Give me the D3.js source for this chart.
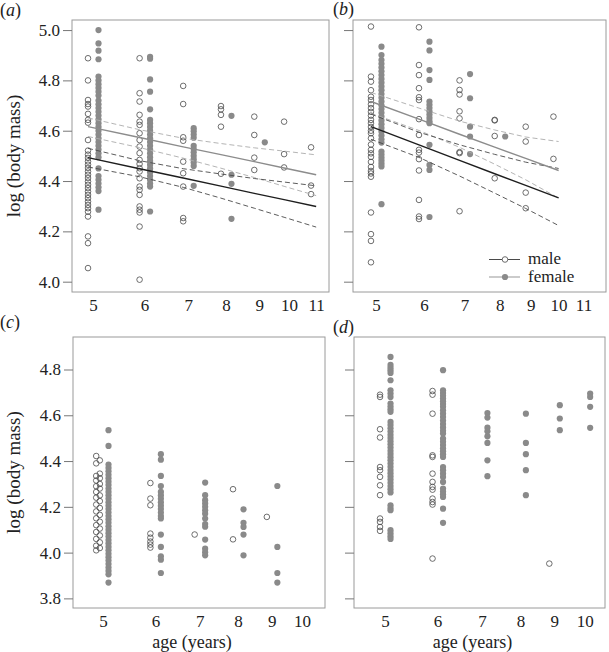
<!DOCTYPE html>
<html><head><meta charset="utf-8">
<script src="https://cdn.jsdelivr.net/npm/d3@7"></script>
<style>
body{margin:0;background:#fff;}
svg text{font-family:"Liberation Serif","Times New Roman",serif;}
</style></head><body>
<svg id="chart" width="609" height="652"></svg>
<script>
// ---------- data ----------
const ticksAgeAB = [5, 6, 7, 8, 9, 10, 11];
const ticksAgeCD = [5, 6, 7, 8, 9, 10];
const ticksMassAB = [4.0, 4.2, 4.4, 4.6, 4.8, 5.0];
const ticksMassCD = [3.8, 4.0, 4.2, 4.4, 4.6, 4.8];

const aMale = [
  [5, [4.888, 4.800, 4.722, 4.706, 4.696, 4.667, 4.643, 4.632, 4.563, 4.521, 4.505, 4.492, 4.478, 4.465, 4.452, 4.438, 4.425, 4.412, 4.398, 4.385, 4.372, 4.358, 4.345, 4.332, 4.318, 4.305, 4.292, 4.278, 4.259, 4.180, 4.153, 4.054]],
  [6, [4.888, 4.749, 4.716, 4.663, 4.636, 4.623, 4.590, 4.563, 4.537, 4.511, 4.484, 4.468, 4.451, 4.438, 4.411, 4.378, 4.365, 4.345, 4.299, 4.286, 4.275, 4.219, 4.008]],
  [7, [4.778, 4.706, 4.574, 4.560, 4.477, 4.431, 4.378, 4.253, 4.240]],
  [8, [4.698, 4.685, 4.663, 4.616, 4.429]],
  [9, [4.656, 4.583, 4.493, 4.444]],
  [10, [4.636, 4.507, 4.454]],
  [11, [4.534, 4.382, 4.348]]
];
const aFemale = [
  [5, [5.000, 4.947, 4.918, 4.884, 4.815, 4.800, 4.785, 4.770, 4.755, 4.740, 4.720, 4.705, 4.690, 4.675, 4.660, 4.645, 4.630, 4.615, 4.600, 4.585, 4.570, 4.555, 4.540, 4.525, 4.510, 4.495, 4.450, 4.420, 4.405, 4.390, 4.375, 4.360, 4.286]],
  [6, [4.894, 4.886, 4.804, 4.755, 4.685, 4.643, 4.630, 4.615, 4.600, 4.585, 4.570, 4.555, 4.540, 4.525, 4.510, 4.495, 4.480, 4.465, 4.450, 4.435, 4.420, 4.405, 4.390, 4.378, 4.279]],
  [7, [4.610, 4.598, 4.585, 4.572, 4.540, 4.527, 4.514, 4.500, 4.487, 4.474, 4.460, 4.381]],
  [8, [4.659, 4.425, 4.389, 4.250]],
  [9, [4.554]]
];
const bMale = [
  [5, [5.014, 4.815, 4.795, 4.761, 4.735, 4.722, 4.705, 4.690, 4.675, 4.660, 4.643, 4.630, 4.615, 4.600, 4.590, 4.570, 4.545, 4.524, 4.510, 4.496, 4.476, 4.456, 4.440, 4.430, 4.417, 4.275, 4.189, 4.162, 4.077]],
  [6, [5.011, 4.861, 4.821, 4.769, 4.733, 4.722, 4.646, 4.583, 4.524, 4.513, 4.487, 4.442, 4.325, 4.259, 4.249]],
  [7, [4.800, 4.762, 4.744, 4.677, 4.649, 4.515, 4.511, 4.280]],
  [8, [4.643, 4.641, 4.579, 4.411]],
  [9, [4.616, 4.557, 4.354, 4.292]],
  [10, [4.656, 4.488]]
];
const bFemale = [
  [5, [4.934, 4.901, 4.881, 4.866, 4.851, 4.836, 4.821, 4.806, 4.791, 4.776, 4.761, 4.746, 4.731, 4.716, 4.701, 4.686, 4.671, 4.656, 4.641, 4.626, 4.611, 4.596, 4.581, 4.566, 4.553, 4.517, 4.505, 4.493, 4.481, 4.469, 4.458, 4.308]],
  [6, [4.954, 4.919, 4.841, 4.802, 4.716, 4.703, 4.690, 4.677, 4.664, 4.651, 4.638, 4.630, 4.544, 4.464, 4.444, 4.257]],
  [7, [4.825, 4.729, 4.616, 4.577, 4.507]],
  [8, [4.577]]
];
const cMale = [
  [5, [4.422, 4.403, 4.390, 4.345, 4.335, 4.325, 4.315, 4.300, 4.290, 4.280, 4.265, 4.250, 4.240, 4.225, 4.210, 4.195, 4.180, 4.165, 4.150, 4.135, 4.120, 4.105, 4.090, 4.075, 4.060, 4.045, 4.030, 4.020, 4.010]],
  [6, [4.304, 4.236, 4.207, 4.083, 4.065, 4.048, 4.035, 4.022]],
  [7, [4.079]],
  [8, [4.277, 4.058]],
  [9, [4.156]]
];
const cFemale = [
  [5, [4.535, 4.466, 4.385, 4.370, 4.355, 4.340, 4.325, 4.310, 4.295, 4.280, 4.265, 4.250, 4.235, 4.220, 4.205, 4.190, 4.175, 4.160, 4.145, 4.130, 4.115, 4.100, 4.085, 4.070, 4.055, 4.040, 4.025, 4.010, 3.995, 3.980, 3.965, 3.950, 3.935, 3.920, 3.905, 3.869]],
  [6, [4.430, 4.406, 4.335, 4.291, 4.265, 4.250, 4.235, 4.220, 4.205, 4.190, 4.175, 4.160, 4.149, 4.079, 4.025, 3.984, 3.969, 3.911]],
  [7, [4.306, 4.251, 4.229, 4.215, 4.200, 4.185, 4.170, 4.149, 4.125, 4.113, 4.057, 4.017, 4.002, 3.988]],
  [8, [4.189, 4.130, 4.112, 4.079, 3.988]],
  [9, [4.291, 4.025, 3.911, 3.869]]
];
const dMale = [
  [5, [4.690, 4.680, 4.539, 4.503, 4.374, 4.360, 4.331, 4.294, 4.251, 4.149, 4.134, 4.112, 4.095]],
  [6, [4.706, 4.690, 4.607, 4.425, 4.418, 4.345, 4.309, 4.287, 4.275, 4.236, 4.221, 4.210, 3.974]],
  [9, [3.952]]
];
const dFemale = [
  [5, [4.855, 4.820, 4.808, 4.797, 4.785, 4.753, 4.709, 4.695, 4.680, 4.651, 4.638, 4.626, 4.615, 4.571, 4.557, 4.543, 4.529, 4.515, 4.501, 4.487, 4.473, 4.459, 4.445, 4.431, 4.417, 4.403, 4.389, 4.375, 4.361, 4.347, 4.333, 4.319, 4.305, 4.291, 4.277, 4.263, 4.207, 4.195, 4.185, 4.098, 4.085, 4.072, 4.060]],
  [6, [4.797, 4.709, 4.697, 4.685, 4.673, 4.661, 4.649, 4.637, 4.622, 4.607, 4.592, 4.577, 4.562, 4.547, 4.532, 4.520, 4.498, 4.484, 4.470, 4.456, 4.443, 4.430, 4.418, 4.374, 4.360, 4.345, 4.330, 4.309, 4.280, 4.267, 4.255, 4.243, 4.192, 4.130]],
  [7, [4.610, 4.590, 4.546, 4.530, 4.508, 4.479, 4.403, 4.334]],
  [8, [4.607, 4.479, 4.430, 4.360, 4.251]],
  [9, [4.644, 4.586, 4.535]],
  [10, [4.695, 4.680, 4.637, 4.545]]
];

// fitted lines with confidence bands (panels a, b)
const aLineAges = [5, 6, 7, 8, 9, 10, 11.2];
const aMaleFit = [4.493, 4.449, 4.412, 4.380, 4.351, 4.326, 4.299];
const aMaleUpper = [4.530, 4.481, 4.449, 4.428, 4.410, 4.396, 4.381];
const aMaleLower = [4.456, 4.417, 4.375, 4.332, 4.292, 4.256, 4.217];
const aFemaleFit = [4.616, 4.573, 4.536, 4.505, 4.477, 4.452, 4.425];
const aFemaleUpper = [4.651, 4.604, 4.570, 4.549, 4.532, 4.519, 4.504];
const aFemaleLower = [4.577, 4.533, 4.491, 4.451, 4.414, 4.379, 4.342];

const bLineAges = [5, 6, 7, 8, 9, 10.2];
const bMaleFit = [4.616, 4.544, 4.482, 4.429, 4.383, 4.333];
const bMaleUpper = [4.666, 4.594, 4.544, 4.506, 4.475, 4.450];
const bMaleLower = [4.566, 4.494, 4.420, 4.352, 4.291, 4.223];
const bFemaleFit = [4.716, 4.646, 4.586, 4.535, 4.490, 4.442];
const bFemaleUpper = [4.752, 4.690, 4.638, 4.603, 4.575, 4.557];
const bFemaleLower = [4.669, 4.601, 4.534, 4.467, 4.405, 4.332];

const legendLabels = ["male", "female"];
const yTitle = "log (body mass)";
const xTitle = "age (years)";

// ---------- styles ----------
const FONT = "Liberation Serif, Times New Roman, serif";
const C = {
  box: "#9a9a9a", tick: "#777", text: "#222",
  female: "#8a8a8a", maleStroke: "#4a4a4a",
  maleFit: "#1e1e1e", maleCI: "#4a4a4a",
  femaleFit: "#8c8c8c", femaleCI: "#ababab"
};
const FEMALE_DODGE = 10.5;

const panels = [
  {key: "a", male: aMale, female: aFemale, box: [72, 20, 329, 292], xDom: [4.725, 11.72], yDom: [3.959, 5.04],
   xTicks: ticksAgeAB, yTicks: ticksMassAB, yLabels: true, lab: [0, 16], xLabPad: 7, xTitleOn: false,
   lines: {ages: aLineAges, mf: aMaleFit, mu: aMaleUpper, ml: aMaleLower, ff: aFemaleFit, fu: aFemaleUpper, fl: aFemaleLower}},
  {key: "b", male: bMale, female: bFemale, box: [353, 20, 606, 292], xDom: [4.670, 12.21], yDom: [3.959, 5.04],
   xTicks: ticksAgeAB, yTicks: ticksMassAB, yLabels: false, lab: [333, 15], xLabPad: 7, xTitleOn: false, legend: true,
   lines: {ages: bLineAges, mf: bMaleFit, mu: bMaleUpper, ml: bMaleLower, ff: bFemaleFit, fu: bFemaleUpper, fl: bFemaleLower}},
  {key: "c", male: cMale, female: cFemale, box: [73, 337, 325, 608], xDom: [4.583, 11.02], yDom: [3.758, 4.942],
   xTicks: ticksAgeCD, yTicks: ticksMassCD, yLabels: true, lab: [0, 328], xLabPad: 7, xTitleOn: true, dodgeMale5: true},
  {key: "d", male: dMale, female: dFemale, box: [354, 337, 605, 608], xDom: [4.568, 10.92], yDom: [3.758, 4.942],
   xTicks: ticksAgeCD, yTicks: ticksMassCD, yLabels: false, lab: [333, 333], xLabPad: 7, xTitleOn: true}
];

const svg = d3.select("#chart");

panels.forEach(p => {
  const [x0, y0, x1, y1] = p.box;
  const x = d3.scaleLog().domain(p.xDom).range([x0, x1]);
  const y = d3.scaleLinear().domain(p.yDom).range([y1, y0]);
  const g = svg.append("g");

  // box
  g.append("rect").attr("x", x0).attr("y", y0).attr("width", x1 - x0).attr("height", y1 - y0)
    .attr("fill", "none").attr("stroke", C.box).attr("stroke-width", 1);

  // y axis
  const yAxis = d3.axisLeft(y).tickValues(p.yTicks).tickSize(9).tickPadding(3)
    .tickFormat(p.yLabels ? d3.format(".1f") : () => "");
  const ya = g.append("g").attr("transform", `translate(${x0},0)`).call(yAxis);
  ya.select(".domain").remove();
  ya.attr("font-family", FONT).attr("font-size", 17);
  ya.selectAll(".tick line").attr("stroke", C.tick);
  ya.selectAll(".tick text").attr("fill", C.text);

  // x axis (labels only)
  const xAxis = d3.axisBottom(x).tickValues(p.xTicks).tickSize(0).tickPadding(p.xLabPad)
    .tickFormat(d3.format("d"));
  const xa = g.append("g").attr("transform", `translate(5,${y1})`).call(xAxis);
  xa.select(".domain").remove();
  xa.attr("font-family", FONT).attr("font-size", 17);
  xa.selectAll(".tick text").attr("fill", C.text);

  // points
  const femalePts = p.female.flatMap(([age, vals]) => vals.map(v => ({age, v})));
  const malePts = p.male.flatMap(([age, vals]) => vals.map((v, i) => ({age, v, i})));
  g.append("g").selectAll("circle").data(femalePts).join("circle")
    .attr("cx", d => x(d.age) + FEMALE_DODGE).attr("cy", d => y(d.v)).attr("r", 3.1)
    .attr("fill", C.female);
  g.append("g").selectAll("circle").data(malePts).join("circle")
    .attr("cx", d => x(d.age) + (p.dodgeMale5 && d.age === 5 ? (d.i % 2 ? 1.8 : -1.8) : 0))
    .attr("cy", d => y(d.v)).attr("r", 2.8)
    .attr("fill", "none").attr("stroke", C.maleStroke).attr("stroke-width", 0.8);

  // lines
  if (p.lines) {
    const L = p.lines;
    const mk = vals => d3.line().x((d, i) => x(L.ages[i])).y(d => y(d))(vals);
    const specs = [
      [L.fu, C.femaleCI, 0.9, "5,3"], [L.fl, C.femaleCI, 0.9, "5,3"],
      [L.mu, C.maleCI, 0.9, "5,3"], [L.ml, C.maleCI, 0.9, "5,3"],
      [L.ff, C.femaleFit, 1.4, null], [L.mf, C.maleFit, 1.4, null]
    ];
    specs.forEach(([vals, col, w, dash]) => {
      g.append("path").attr("d", mk(vals)).attr("fill", "none").attr("stroke", col)
        .attr("stroke-width", w).attr("stroke-dasharray", dash);
    });
  }

  // panel label
  const t = g.append("text").attr("x", p.lab[0]).attr("y", p.lab[1]).attr("font-size", 18)
    .attr("fill", C.text).attr("font-family", FONT);
  t.append("tspan").text("(");
  t.append("tspan").attr("font-style", "italic").text(p.key);
  t.append("tspan").text(")");

  // y title
  if (p.yLabels) {
    g.append("text").attr("transform", `translate(20,${(y0 + y1) / 2}) rotate(-90)`)
      .attr("text-anchor", "middle").attr("font-size", 19).attr("fill", C.text)
      .attr("font-family", FONT).text(yTitle);
  }
  // x title
  if (p.xTitleOn) {
    g.append("text").attr("x", (x0 + x1) / 2 - 7).attr("y", 648)
      .attr("text-anchor", "middle").attr("font-size", 18).attr("fill", C.text)
      .attr("font-family", FONT).text(xTitle);
  }

  // legend
  if (p.legend) {
    const lg = g.append("g");
    const rows = [
      {label: legendLabels[0], y: 259.5, line: C.maleCI, male: true},
      {label: legendLabels[1], y: 277, line: "#b5b5b5", male: false}
    ];
    rows.forEach(r => {
      lg.append("line").attr("x1", 489).attr("x2", 520).attr("y1", r.y).attr("y2", r.y)
        .attr("stroke", r.line).attr("stroke-width", r.male ? 1 : 1.4);
      if (r.male) {
        lg.append("circle").attr("cx", 505).attr("cy", r.y).attr("r", 2.8)
          .attr("fill", "#fff").attr("stroke", C.maleStroke).attr("stroke-width", 0.8);
      } else {
        lg.append("circle").attr("cx", 505).attr("cy", r.y).attr("r", 3.1).attr("fill", C.female);
      }
      lg.append("text").attr("x", 528).attr("y", r.y + 4.5).attr("font-size", 17)
        .attr("fill", C.text).attr("font-family", FONT).text(r.label);
    });
  }
});
</script>
</body></html>
